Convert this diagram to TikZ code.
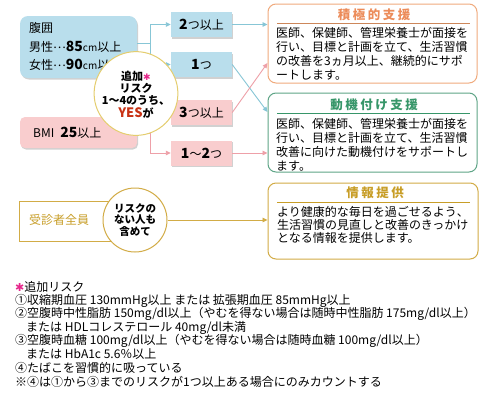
\documentclass[tikz,border=0pt]{standalone}
\usepackage{fontspec}
\setmainfont{Noto Sans CJK JP}
\newfontfamily\dejavu{DejaVu Sans}
\usetikzlibrary{arrows.meta,shadows,calc}
\definecolor{bfill}{RGB}{185,222,236}
\definecolor{pfill}{RGB}{249,205,206}
\definecolor{bline}{RGB}{135,198,214}
\definecolor{pline}{RGB}{238,160,168}
\definecolor{orng}{RGB}{240,170,125}
\definecolor{orngt}{RGB}{236,140,90}
\definecolor{orngu}{RGB}{205,135,90}
\definecolor{grn}{RGB}{95,165,135}
\definecolor{grnt}{RGB}{55,150,105}
\definecolor{gold}{RGB}{210,172,70}
\definecolor{goldt}{RGB}{200,158,40}
\definecolor{cyel}{RGB}{228,205,110}
\definecolor{yesred}{RGB}{200,50,20}
\definecolor{starc}{RGB}{230,40,140}
\newcommand\jfs[1]{\fontsize{#1}{#1}\selectfont}
\newcommand\jsp{\hspace{2.5pt}}
\newcommand\bnum[1]{{\fontsize{14}{14}\selectfont\bfseries #1}}
\newcommand\mdots{\raisebox{3.5pt}{…}}
\tikzset{
  txt/.style={inner sep=0pt, anchor=west, font=\jfs{12}},
  lbox/.style={rounded corners=8pt, inner sep=0pt, draw=none,
    drop shadow={shadow xshift=1pt, shadow yshift=-1.5pt, opacity=0.18, fill=black}},
  sbox/.style={inner sep=0pt, minimum width=61pt, minimum height=25pt, draw=none, font=\jfs{12},
    drop shadow={shadow xshift=1pt, shadow yshift=-1.5pt, opacity=0.18, fill=black}},
  bigbox/.style={rounded corners=8pt, line width=1pt, fill=white, inner sep=0pt,
    minimum width=209pt, minimum height=79pt},
  ttl/.style={inner sep=0pt, font=\jfs{12.5}\bfseries},
  arr/.style={-{Triangle[length=5pt,width=4.5pt]}},
  bconn/.style={draw=bline, line width=0.9pt},
  pconn/.style={draw=pline, line width=0.9pt},
  gconn/.style={draw=gold, line width=0.9pt},
  rcircle/.style={circle, fill=white, line width=1pt, inner sep=0pt, minimum size=64pt, align=center},
}
\begin{document}
\begin{tikzpicture}[x=1pt,y=-1pt]
\useasboundingbox (0,0) rectangle (496,400);
\fill[white] (0,0) rectangle (496,400);

% left boxes
\node[lbox, fill=bfill, minimum width=117pt, minimum height=62pt] (fukui) at (78.5,47) {};
\node[lbox, fill=pfill, rounded corners=5pt, minimum width=117pt, minimum height=31pt] (bmi) at (78.5,132.5) {};
\node[txt] (f1) at (29,28) {腹囲};
\node[txt] (f2) at (29,47) {男性\mdots\bnum{85}{\jfs{10}cm}以上};
\node[txt] (f3) at (29,65) {女性\mdots\bnum{90}{\jfs{10}cm}以上};
\node[txt] (b1) at (33,133) {BMI\hspace{6pt}\bnum{25}以上};

% small boxes
\node[sbox, fill=bfill] (two) at (201.5,24.5) {\bnum{2}つ以上};
\node[sbox, fill=bfill] (one) at (201.5,64.5) {\bnum{1}つ};
\node[sbox, fill=pfill] (three) at (201.5,112.5) {\bnum{3}つ以上};
\node[sbox, fill=pfill] (onetwo) at (201.5,153) {\bnum{1}～\bnum{2}つ};

% big boxes
\node[bigbox, draw=orng] (sek) at (372.5,43.5) {};
\node[bigbox, draw=grn] (doki) at (372.5,132.5) {};
\node[bigbox, draw=gold, minimum width=210pt, minimum height=76pt] (joho) at (373,221) {};

% left connectors
\coordinate (bj) at (150,43);
\coordinate (pj) at (150,133);
\draw[bconn] (fukui.east |- bj) -- (bj);
\draw[bconn, arr] (bj) |- (two.west);
\draw[bconn, arr] (bj) |- (one.west);
\draw[pconn] (bmi.east |- pj) -- (pj);
\draw[pconn, arr] (pj) |- (three.west);
\draw[pconn, arr] (pj) |- (onetwo.west);

% right connectors
\draw[bconn, arr] (two.east) -- (two.east -| sek.west);
\draw[bconn, arr] (one.east) -- ($(doki.west)+(0,-20.5)$);
\draw[pconn, arr] (three.east) -- ($(sek.west)+(0,19.5)$);
\draw[pconn, arr] (onetwo.east) -- (onetwo.east -| doki.west);

% risk circle
\node[rcircle, draw=cyel, font=\jfs{11}\bfseries] (risk) at (136,93.5)
  {\rule{0pt}{11pt}追加\textcolor{starc}{\dejavu\jfs{9}✱}\\[1pt]リスク\\[1pt]1～4のうち、\\[2pt]{\jfs{13}\textcolor{yesred}{YES}}が};

% everyone
\node[draw=gold, line width=1pt, fill=white, inner sep=0pt, minimum width=116pt, minimum height=40pt] (allbox) at (77,221) {};
\node[txt, text=goldt] (allt) at (29,220) {受診者全員};
\node[rcircle, draw=gold, font=\jfs{10.5}\bfseries] (all) at (135,220)
  {リスクの\\[1pt]ない人も\\[1pt]含めて};
\draw[gconn, arr] (all.east) -- (all.east -| joho.west);

% titles
\node[ttl, text=orngt] (sekt) at (374,15) {積\jsp 極\jsp 的\jsp 支\jsp 援};
\draw[orngu, line width=0.8pt] (277,23) -- (470,23);
\node[ttl, text=grnt] (dokit) at (374,105) {動\jsp 機\jsp 付\jsp け\jsp 支\jsp 援};
\draw[grnt, line width=0.8pt] (277,113) -- (470,113);
\node[ttl, text=goldt] (johot) at (375,193) {情\jsp 報\jsp 提\jsp 供};
\draw[goldt, line width=0.8pt] (277,202) -- (470,202);

% box texts
\node[txt] (s1) at (276,33) {医師、保健師、管理栄養士が面接を};
\node[txt] (s2) at (276,47) {行い、目標と計画を立て、生活習慣};
\node[txt] (s3) at (276,61) {の改善を3ヵ月以上、継続的にサポ};
\node[txt] (s4) at (276,75) {ートします。};
\node[txt] (d1) at (276,124) {医師、保健師、管理栄養士が面接を};
\node[txt] (d2) at (276,138) {行い、目標と計画を立て、生活習慣};
\node[txt] (d3) at (276,152) {改善に向けた動機付けをサポートし};
\node[txt] (d4) at (276,166) {ます。};
\node[txt] (j1) at (277,212) {より健康的な毎日を過ごせるよう、};
\node[txt] (j2) at (277,225) {生活習慣の見直しと改善のきっかけ};
\node[txt] (j3) at (277,238) {となる情報を提供します。};

% notes
\node[txt] (n1) at (15,287) {\textcolor{starc}{\dejavu\jfs{11}✱}追加リスク};
\node[txt] (n2) at (15,300.5) {①収縮期血圧 130mmHg以上 または 拡張期血圧 85mmHg以上};
\node[txt] (n3) at (15,314) {②空腹時中性脂肪 150mg/dl以上（やむを得ない場合は随時中性脂肪 175mg/dl以上）};
\node[txt] (n4) at (26,327.5) {または HDLコレステロール 40mg/dl未満};
\node[txt] (n5) at (15,341) {③空腹時血糖 100mg/dl以上（やむを得ない場合は随時血糖 100mg/dl以上）};
\node[txt] (n6) at (26,354.5) {または HbA1c 5.6％以上};
\node[txt] (n7) at (15,368) {④たばこを習慣的に吸っている};
\node[txt] (n8) at (15,381.5) {※④は①から③までのリスクが1つ以上ある場合にのみカウントする};
\end{tikzpicture}
\end{document}
